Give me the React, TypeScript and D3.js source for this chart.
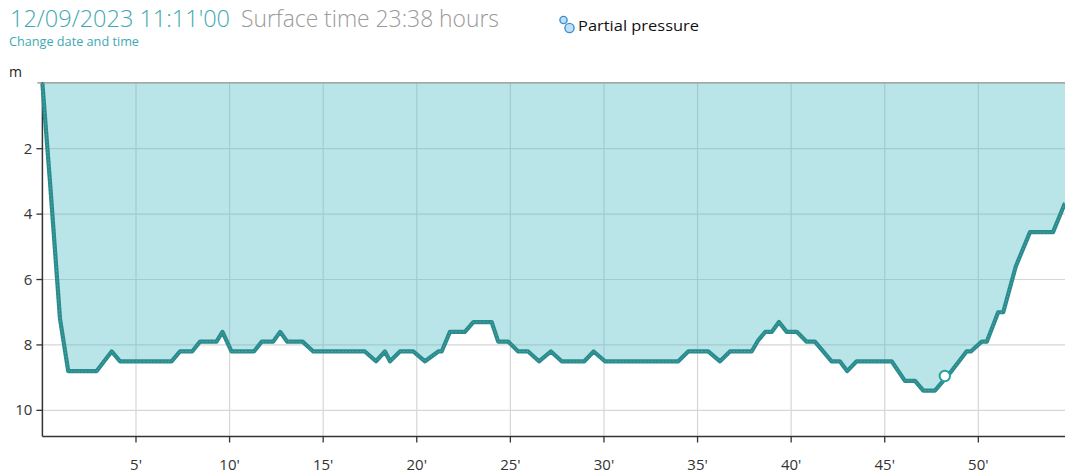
import React from 'react';
import * as d3 from 'd3';

// Dive profile: elapsed time (minutes) and depth (metres)
const timeMin = [
  0, 0.41, 0.94, 1.38, 2.9, 3.7, 4.15, 6.9, 7.35, 8.0, 8.42, 9.3, 9.62, 10.1, 11.3, 11.72,
  12.33, 12.7, 13.08, 13.9, 14.47, 17.23, 17.82, 18.3, 18.57, 19.1, 19.81, 20.44, 21.15,
  21.33, 21.77, 22.57, 23.02, 24.0, 24.35, 24.89, 25.42, 25.95, 26.53, 27.17, 27.74, 28.95,
  29.45, 30.05, 33.97, 34.5, 35.57, 36.2, 36.73, 37.89, 38.25, 38.62, 38.97, 39.35, 39.76,
  40.3, 40.83, 41.27, 41.71, 42.16, 42.6, 42.99, 43.5, 45.37, 46.08, 46.62, 47.06, 47.68,
  48.57, 49.37, 49.6, 50.18, 50.45, 51.06, 51.33, 52.0, 52.76, 53.99, 54.63,
];
const depthM = [
  0, 3.05, 7.2, 8.8, 8.8, 8.2, 8.5, 8.5, 8.2, 8.2, 7.9, 7.9, 7.6, 8.2, 8.2, 7.9,
  7.9, 7.6, 7.9, 7.9, 8.2, 8.2, 8.5, 8.2, 8.5, 8.2, 8.2, 8.5, 8.2,
  8.2, 7.6, 7.6, 7.3, 7.3, 7.9, 7.9, 8.2, 8.2, 8.5, 8.2, 8.5, 8.5,
  8.2, 8.5, 8.5, 8.2, 8.2, 8.5, 8.2, 8.2, 7.85, 7.6, 7.6, 7.3, 7.6,
  7.6, 7.9, 7.9, 8.2, 8.5, 8.5, 8.8, 8.5, 8.5, 9.1, 9.1, 9.4, 9.4,
  8.8, 8.2, 8.2, 7.9, 7.9, 7.0, 7.0, 5.6, 4.55, 4.55, 3.66,
];
const xTicks = [5, 10, 15, 20, 25, 30, 35, 40, 45, 50];
const yTicks = [2, 4, 6, 8, 10];
const markerTime = [48.21];
const markerDepth = [8.95];

const FONT = '"Open Sans", "Noto Sans", sans-serif';

export default function App() {
  const W = 1065;
  const H = 476;
  const x = d3.scaleLinear().domain([0, 54.63]).range([42.4, 1065]);
  const y = d3.scaleLinear().domain([0, 10.8]).range([83.3, 436.5]);
  const pts: [number, number][] = timeMin.map((t, i) => [t, depthM[i]]);
  const areaPath = d3
    .area<[number, number]>()
    .x((d) => x(d[0]))
    .y0(y(0))
    .y1((d) => y(d[1]))(pts) as string;
  const linePath = d3
    .line<[number, number]>()
    .x((d) => x(d[0]))
    .y((d) => y(d[1]))(pts) as string;
  const left = x(0);
  const top = y(0);
  const bottom = y(10.8);

  return (
    <svg
      width={W}
      height={H}
      style={{ position: 'absolute', left: 0, top: 0, background: '#fff' }}
      fontFamily={FONT}
    >
      {/* header */}
      <text x={10} y={27} fontSize={24} fontWeight={300} fill="#3ea9b3" textLength={220} lengthAdjust="spacingAndGlyphs">
        12/09/2023 11:11'00
      </text>
      <text x={241} y={27} fontSize={24} fontWeight={300} fill="#9a9a9a" textLength={258} lengthAdjust="spacingAndGlyphs">
        Surface time 23:38 hours
      </text>
      <text x={9} y={46} fontSize={12} fill="#3ea9b3" textLength={130} lengthAdjust="spacingAndGlyphs">
        Change date and time
      </text>
      <g stroke="#3b8fd0" strokeWidth={1.4} fill="#bfe0f5">
        <circle cx={563.5} cy={20} r={3.6} />
        <circle cx={569.5} cy={28} r={4.6} />
      </g>
      <text x={578} y={31} fontSize={15} fill="#111" textLength={121} lengthAdjust="spacingAndGlyphs">
        Partial pressure
      </text>

      {/* grid */}
      <g stroke="#d6d6d6" strokeWidth={1.2}>
        {xTicks.map((t) => (
          <line key={'gx' + t} x1={x(t)} x2={x(t)} y1={top} y2={bottom} />
        ))}
        {yTicks.map((d) => (
          <line key={'gy' + d} x1={left} x2={W} y1={y(d)} y2={y(d)} />
        ))}
      </g>

      {/* area */}
      <path d={areaPath} fill="#52bdc6" fillOpacity={0.4} />

      {/* frame & axes */}
      <line x1={left - 5} x2={W} y1={top - 0.5} y2={top - 0.5} stroke="#8a8a8a" strokeWidth={1.3} />
      <line x1={left} x2={left} y1={top - 1} y2={bottom} stroke="#333" strokeWidth={1.5} />
      <line x1={left} x2={W} y1={bottom} y2={bottom} stroke="#333" strokeWidth={1.5} />
      {yTicks.map((d) => (
        <g key={'yt' + d}>
          <line x1={left - 6} x2={left} y1={y(d)} y2={y(d)} stroke="#333" strokeWidth={1.3} />
          <text x={left - 10} y={y(d) + 5} fontSize={15} fill="#333" textAnchor="end">
            {d}
          </text>
        </g>
      ))}
      {xTicks.map((t) => (
        <g key={'xt' + t}>
          <line x1={x(t)} x2={x(t)} y1={bottom} y2={bottom + 6} stroke="#333" strokeWidth={1.3} />
          <text x={x(t)} y={470} fontSize={15} fill="#333" textAnchor="middle">
            {t}'
          </text>
        </g>
      ))}
      <text x={9} y={77} fontSize={14} fill="#222">
        m
      </text>

      {/* profile line */}
      <path d={linePath} fill="none" stroke="#2a8b8d" strokeWidth={4.2} strokeLinejoin="round" />
      <path
        d={linePath}
        fill="none"
        stroke="#57aeb0"
        strokeWidth={1}
        strokeDasharray="2 1.6"
        strokeOpacity={0.7}
      />

      {/* current position marker */}
      {markerTime.map((t, i) => (
        <circle
          key={'m' + i}
          cx={x(t)}
          cy={y(markerDepth[i])}
          r={5.2}
          fill="#fff"
          stroke="#2aa0a3"
          strokeWidth={2}
        />
      ))}
    </svg>
  );
}
